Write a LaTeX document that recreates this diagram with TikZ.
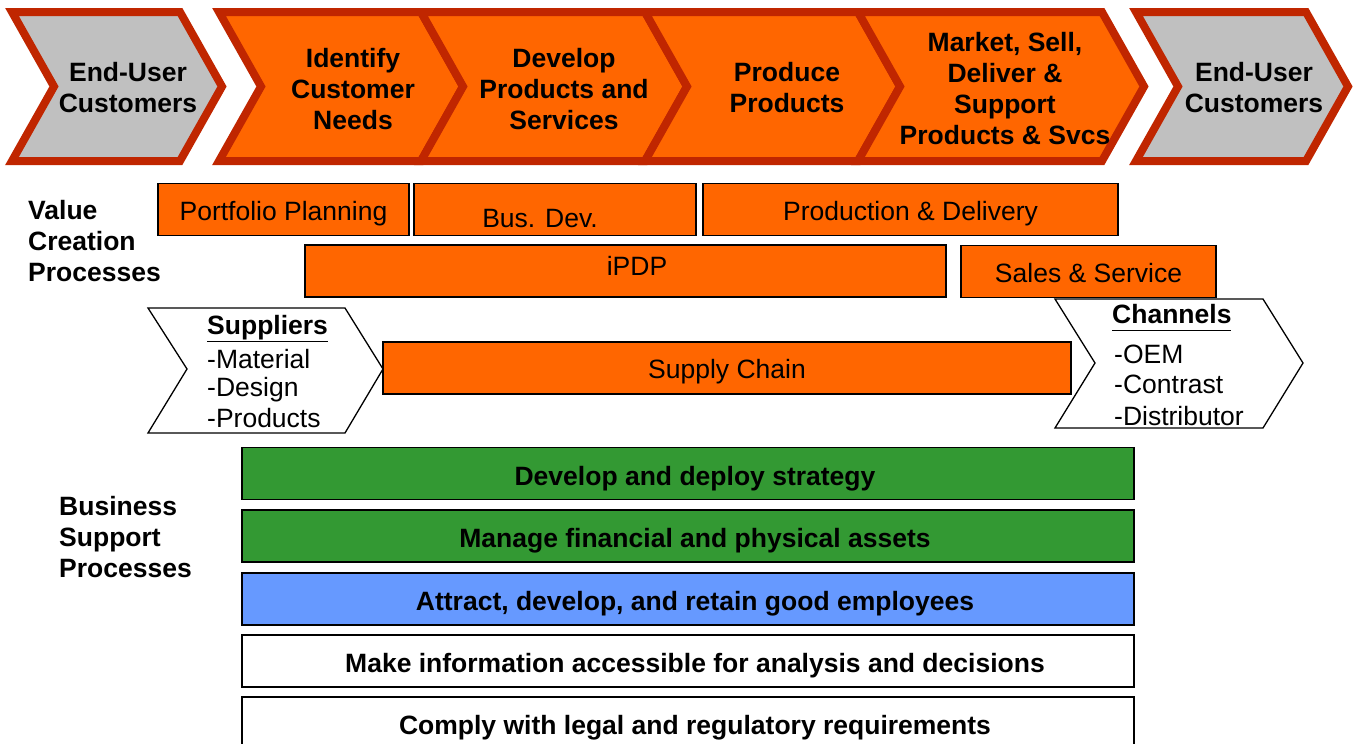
\documentclass[tikz,border=0pt]{standalone}
\usepackage{fontspec}
\setmainfont{Liberation Sans}
\definecolor{chevred}{RGB}{192,38,0}
\definecolor{procorange}{RGB}{255,102,0}
\definecolor{custgray}{RGB}{192,192,192}
\definecolor{suppgreen}{RGB}{51,153,51}
\definecolor{suppblue}{RGB}{102,153,255}
\tikzset{
	topchev/.style={draw=chevred, line width=8pt, line join=miter},
	sidechev/.style={draw, line width=1.3pt, fill=white, line join=miter},
	chevtext/.style={font=\fontsize{26.5}{31}\selectfont\bfseries, align=center, inner sep=0pt},
	procbox/.style={draw, line width=1.3pt, fill=procorange, minimum height=52pt, inner sep=0pt, text height=21pt, text depth=0pt, font=\fontsize{26.5}{31}\selectfont},
	proctext/.style={inner sep=0pt, text height=19pt, text depth=0pt, font=\fontsize{26.5}{31}\selectfont},
	suppbox/.style={draw, line width=1.3pt, minimum width=892pt, minimum height=52pt, inner sep=0pt, text height=23pt, text depth=0pt, font=\fontsize{26.5}{31}\selectfont\bfseries, execute at begin node=\hspace{14pt}},
	listtext/.style={anchor=base west, inner sep=0pt, font=\fontsize{26.5}{31}\selectfont},
	sidelabel/.style={anchor=west, align=left, inner sep=0pt, font=\fontsize{26.5}{31}\selectfont\bfseries}
}
\begin{document}
\begin{tikzpicture}[x=1pt, y=-1pt]
		\useasboundingbox (0,0) rectangle (1361,744);
		% Value chain
		\draw[topchev, fill=custgray] (12,12) -- (180,12) -- (222,86.5) -- (180,161) -- (12,161) -- (54,86.5) -- cycle;
		\draw[topchev, fill=procorange] (219,12) -- (421,12) -- (463,86.5) -- (421,161) -- (219,161) -- (261,86.5) -- cycle;
		\draw[topchev, fill=procorange] (421,12) -- (645,12) -- (687,86.5) -- (645,161) -- (421,161) -- (463,86.5) -- cycle;
		\draw[topchev, fill=procorange] (645,12) -- (858,12) -- (900,86.5) -- (858,161) -- (645,161) -- (687,86.5) -- cycle;
		\draw[topchev, fill=procorange] (858,12) -- (1102,12) -- (1144,86.5) -- (1102,161) -- (858,161) -- (900,86.5) -- cycle;
		\draw[topchev, fill=custgray] (1136,12) -- (1306,12) -- (1348,86.5) -- (1306,161) -- (1136,161) -- (1178,86.5) -- cycle;
		\node[chevtext] (EndA) at (128,88) {End-User\\Customers};
		\node[chevtext] (Ide) at (353,89) {Identify\\Customer\\Needs};
		\node[chevtext] (Dev) at (564,89) {Develop\\Products and\\Services};
		\node[chevtext] (Pro) at (787,88) {Produce\\Products};
		\node[chevtext] (Mkt) at (1005,88.5) {Market, Sell,\\Deliver \&\\Support\\Products \& Svcs};
		\node[chevtext] (EndB) at (1254,88) {End-User\\Customers};
		% Value creation processes
		\node[sidelabel] (VCP) at (28,241) {Value\\Creation\\Processes};
		\node[procbox, minimum width=251pt] (Por) at (283.5,209.5) {Portfolio Planning};
		\node[procbox, minimum width=282pt] (Bus) at (555,209.5) {};
		\node[proctext] (BusTxt) at (540,217.5) {Bus. Dev.};
		\node[procbox, minimum width=415pt] (Prd) at (910.5,209.5) {Production \& Delivery};
		\node[procbox, minimum width=641pt] (iPD) at (625.5,271) {};
		\node[proctext] (iPDTxt) at (637,265.5) {iPDP};
		\node[procbox, minimum width=255pt] (Sal) at (1088.5,271.5) {Sales \& Service};
		%% Suppliers and channels
		\draw[sidechev] (148,308) -- (345,308) -- (383,369) -- (345,433) -- (148,433) -- (187,369) -- cycle;
		\draw[sidechev] (1055,299) -- (1263,299) -- (1303,363) -- (1263,428) -- (1055,428) -- (1095,363) -- cycle;
		\node[listtext, font=\fontsize{26.5}{31}\selectfont\bfseries] (SupHd) at (207,334) {\underline{Suppliers}};
		\node[listtext] (Sup1) at (207,368) {-Material};
		\node[listtext] (Sup2) at (207,396) {-Design};
		\node[listtext] (Sup3) at (207,427) {-Products};
		\node[listtext, font=\fontsize{26.5}{31}\selectfont\bfseries] (ChaHd) at (1112,323) {\underline{Channels\vphantom{p}}};
		\node[listtext] (Cha1) at (1114,363) {-OEM};
		\node[listtext] (Cha2) at (1114,393) {-Contrast};
		\node[listtext] (Cha3) at (1114,425) {-Distributor};
		\node[procbox, minimum width=688pt] (SCh) at (727,368) {Supply Chain};
		% Business support processes
		\node[sidelabel] (BSP) at (59,537) {Business\\Support\\Processes};
		\node[suppbox, fill=suppgreen] (Str) at (688,473.5) {Develop and deploy strategy};
		\node[suppbox, fill=suppgreen] (Fin) at (688,536) {Manage financial and physical assets};
		\node[suppbox, fill=suppblue] (Emp) at (688,599) {Attract, develop, and retain good employees};
		\node[suppbox, fill=white] (Inf) at (688,661) {Make information accessible for analysis and decisions};
		\node[suppbox, fill=white] (Leg) at (688,723) {Comply with legal and regulatory requirements};
	\end{tikzpicture}
\end{document}
